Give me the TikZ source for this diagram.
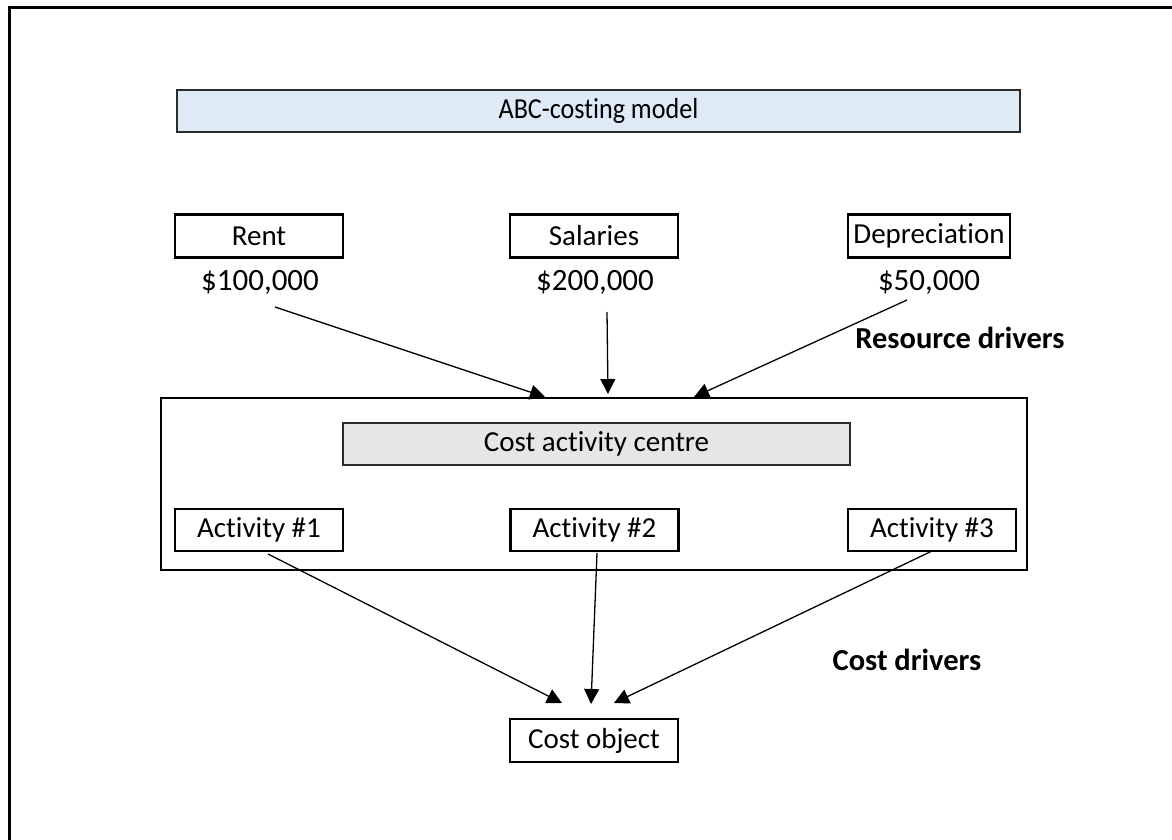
\documentclass[tikz,border=0pt]{standalone}
\usepackage{fontspec}
\setmainfont{Carlito}[Ligatures=NoCommon]
\newfontfamily\titlefont{Carlito}[Ligatures=NoCommon,FakeStretch=0.9]
\usetikzlibrary{arrows.meta}
\definecolor{titlefill}{HTML}{DEEAF6}
\definecolor{centrefill}{HTML}{E6E6E6}
\definecolor{edge}{HTML}{2B2B2B}
\begin{document}
\begin{tikzpicture}[x=1pt,y=-1pt,
  box/.style={draw=black,line width=2.6pt,minimum height=43pt,inner sep=0pt,
    font=\fontsize{29}{34}\selectfont},
  amount/.style={inner sep=0pt,font=\fontsize{31}{37}\selectfont},
  driver/.style={inner sep=0pt,font=\fontsize{30.5}{36}\selectfont\bfseries},
  link/.style={line width=1.3pt,-{Triangle[length=15pt,width=15pt]}}]
\useasboundingbox (0,0) rectangle (1172,840);
% page frame (left and top edges)
\draw[line width=3pt] (9,840) -- (9,8) -- (1172,8);
% title
\node[box,draw=edge,line width=2pt,fill=titlefill,minimum width=843pt,minimum height=42pt,
  font=\titlefont\fontsize{29}{34}\selectfont]
  (title) at (598.5,111) {ABC-costing model};
% resources
\node[box,minimum width=168pt] (rent) at (259,236) {Rent};
\node[box,minimum width=168pt] (sal) at (594,236) {Salaries};
\node[box,minimum width=162pt] (dep) at (929,236) {Depreciation};
\node[amount] (rentv) at (260,282) {\$100,000};
\node[amount] (salv) at (595,282) {\$200,000};
\node[amount] (depv) at (929,282) {\$50,000};
% activity centre
\node[draw=black,line width=1.5pt,minimum width=866pt,minimum height=172pt,inner sep=0pt]
  (centre) at (594,484) {};
\node[box,draw=edge,line width=2pt,fill=centrefill,minimum width=507pt,minimum height=42pt]
  (cac) at (596.5,444) {Cost activity centre};
\node[box,minimum width=168pt,minimum height=42pt] (act1) at (259,530) {Activity \#1};
\node[box,minimum width=168pt,minimum height=42pt] (act2) at (594.5,530) {Activity \#2};
\node[box,minimum width=168pt,minimum height=42pt] (act3) at (932,530) {Activity \#3};
% cost object
\node[box,minimum width=168pt,minimum height=43pt] (obj) at (594,740.5) {Cost object};
% driver labels
\node[driver] (rd) at (960,338) {Resource drivers};
\node[driver] (cd) at (907,660) {Cost drivers};
% connector ends
\coordinate (r1s) at (275,307);
\coordinate (r1e) at (545,397);
\coordinate (r2s) at (607,312);
\coordinate (r2e) at (608,394);
\coordinate (r3s) at (907,300);
\coordinate (r3e) at (694,397);
\coordinate (c1s) at (268,554);
\coordinate (c1e) at (562,703);
\coordinate (c2s) at (597,553);
\coordinate (c2e) at (591,704);
\coordinate (c3s) at (932,551);
\coordinate (c3e) at (614,703);
\draw[link] (r1s) -- (r1e);
\draw[link] (r2s) -- (r2e);
\draw[link] (r3s) -- (r3e);
\draw[link] (c1s) -- (c1e);
\draw[link] (c2s) -- (c2e);
\draw[link] (c3s) -- (c3e);
\end{tikzpicture}
\end{document}
